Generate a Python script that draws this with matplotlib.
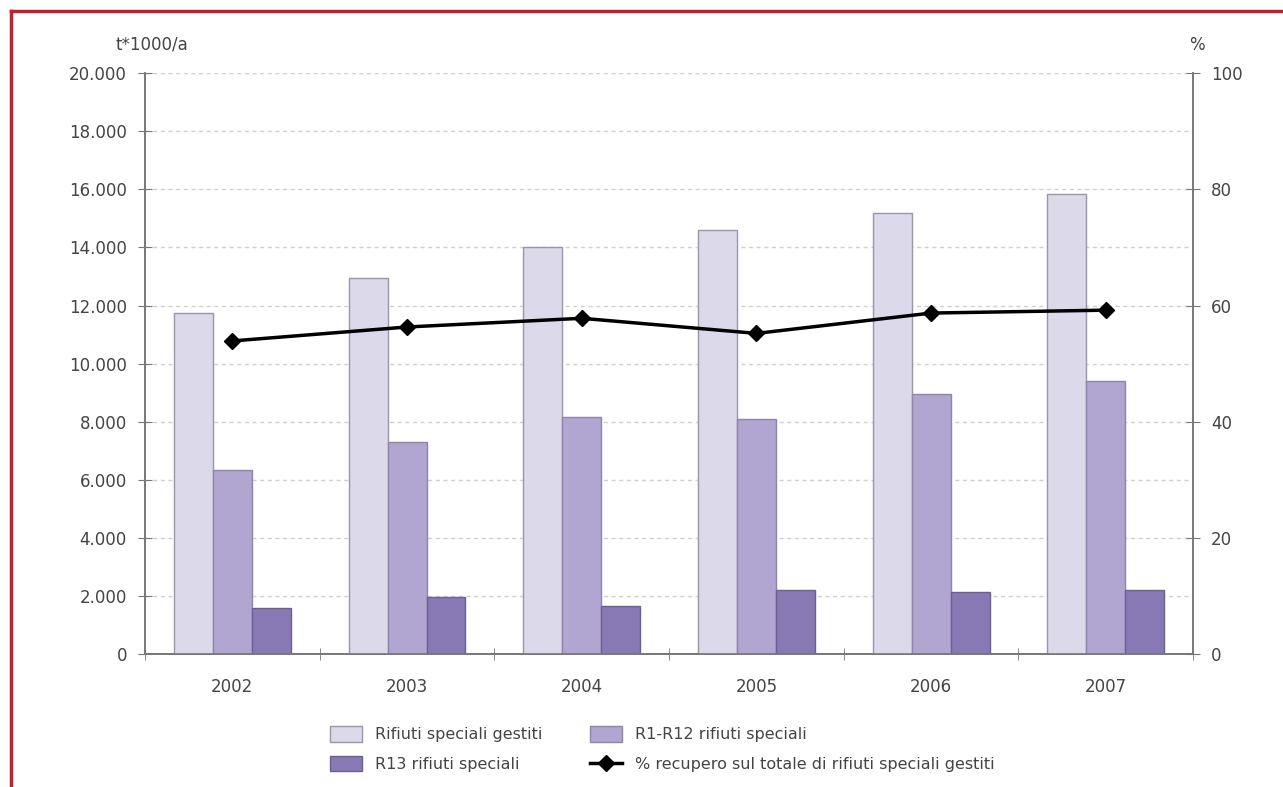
import matplotlib.pyplot as plt
import numpy as np
from matplotlib.lines import Line2D
from matplotlib.ticker import FuncFormatter

# data
anni = ["2002", "2003", "2004", "2005", "2006", "2007"]
gestiti = [11750, 12950, 14000, 14600, 15200, 15850]
r1_r12 = [6350, 7300, 8150, 8100, 8950, 9400]
r13 = [1600, 1950, 1650, 2200, 2150, 2200]
recupero = [53.9, 56.3, 57.8, 55.2, 58.7, 59.2]

col_gestiti = "#dcd9ea"
col_r1 = "#b1a5d2"
col_r13 = "#8878b4"
col_bordo = "#9896ab"
col_testo = "#444444"

fig = plt.figure(figsize=(12.83, 7.87), dpi=100)
ax = fig.add_axes([0.113, 0.169, 0.817, 0.738])
ax2 = ax.twinx()

x = np.arange(len(anni))
w = 0.223
ax.bar(x - w, gestiti, w, color=col_gestiti, edgecolor=col_bordo, linewidth=1, zorder=3,
       label="Rifiuti speciali gestiti")
ax.bar(x, r1_r12, w, color=col_r1, edgecolor="#8e86a8", linewidth=1, zorder=3,
       label="R1-R12 rifiuti speciali")
ax.bar(x + w, r13, w, color=col_r13, edgecolor="#6c6090", linewidth=1, zorder=3,
       label="R13 rifiuti speciali")

ax2.plot(x, recupero, color="black", linewidth=2.5, marker="D", markersize=8,
         label="% recupero sul totale di rifiuti speciali gestiti")

ax.set_xlim(-0.5, len(anni) - 0.5)
ax.set_ylim(0, 20000)
ax2.set_ylim(0, 100)
ax.set_yticks(range(0, 20001, 2000))
ax2.set_yticks(range(0, 101, 20))
ax.yaxis.set_major_formatter(FuncFormatter(lambda v, p: f"{int(v):,}".replace(",", ".")))

ax.set_xticks(x)
ax.set_xticklabels(anni)
ax.set_xticks(np.arange(-0.5, len(anni)), minor=True)
ax.tick_params(axis="x", which="major", length=0, pad=17, labelsize=12, labelcolor=col_testo)
ax.tick_params(axis="x", which="minor", direction="inout", length=8, color="#777777")
ax.tick_params(axis="y", direction="inout", length=10, color="#777777", labelsize=12,
               labelcolor=col_testo, pad=8)
ax2.tick_params(axis="y", direction="inout", length=10, color="#777777", labelsize=12,
                labelcolor=col_testo, pad=8)

ax.grid(axis="y", linestyle=(0, (3, 2.5)), color="#d0d0d0", linewidth=1, zorder=0)
ax.set_axisbelow(True)

for a in (ax, ax2):
    a.spines["top"].set_visible(False)
    for s in ("left", "right", "bottom"):
        a.spines[s].set_color("#777777")
        a.spines[s].set_linewidth(1.2)

fig.text(0.090, 0.937, "t*1000/a", fontsize=12, color=col_testo)
fig.text(0.927, 0.937, "%", fontsize=12, color=col_testo)

h1, l1 = ax.get_legend_handles_labels()
h2, l2 = ax2.get_legend_handles_labels()
handles = [h1[0], h1[2], h1[1], h2[0]]
labels = [l1[0], l1[2], l1[1], l2[0]]
fig.legend(handles, labels, ncol=2, loc="center", bbox_to_anchor=(0.516, 0.048),
           frameon=False, fontsize=11.5, labelcolor=col_testo, handlelength=2.0,
           handleheight=1.1, columnspacing=3.0, labelspacing=0.85)

# red frame (top and left)
fig.add_artist(Line2D([0.0085, 1.0], [0.986, 0.986], color="#c41e2a", linewidth=2.5))
fig.add_artist(Line2D([0.0085, 0.0085], [0.0, 0.986], color="#c41e2a", linewidth=2.5))

fig.savefig("out.png", dpi=100)
